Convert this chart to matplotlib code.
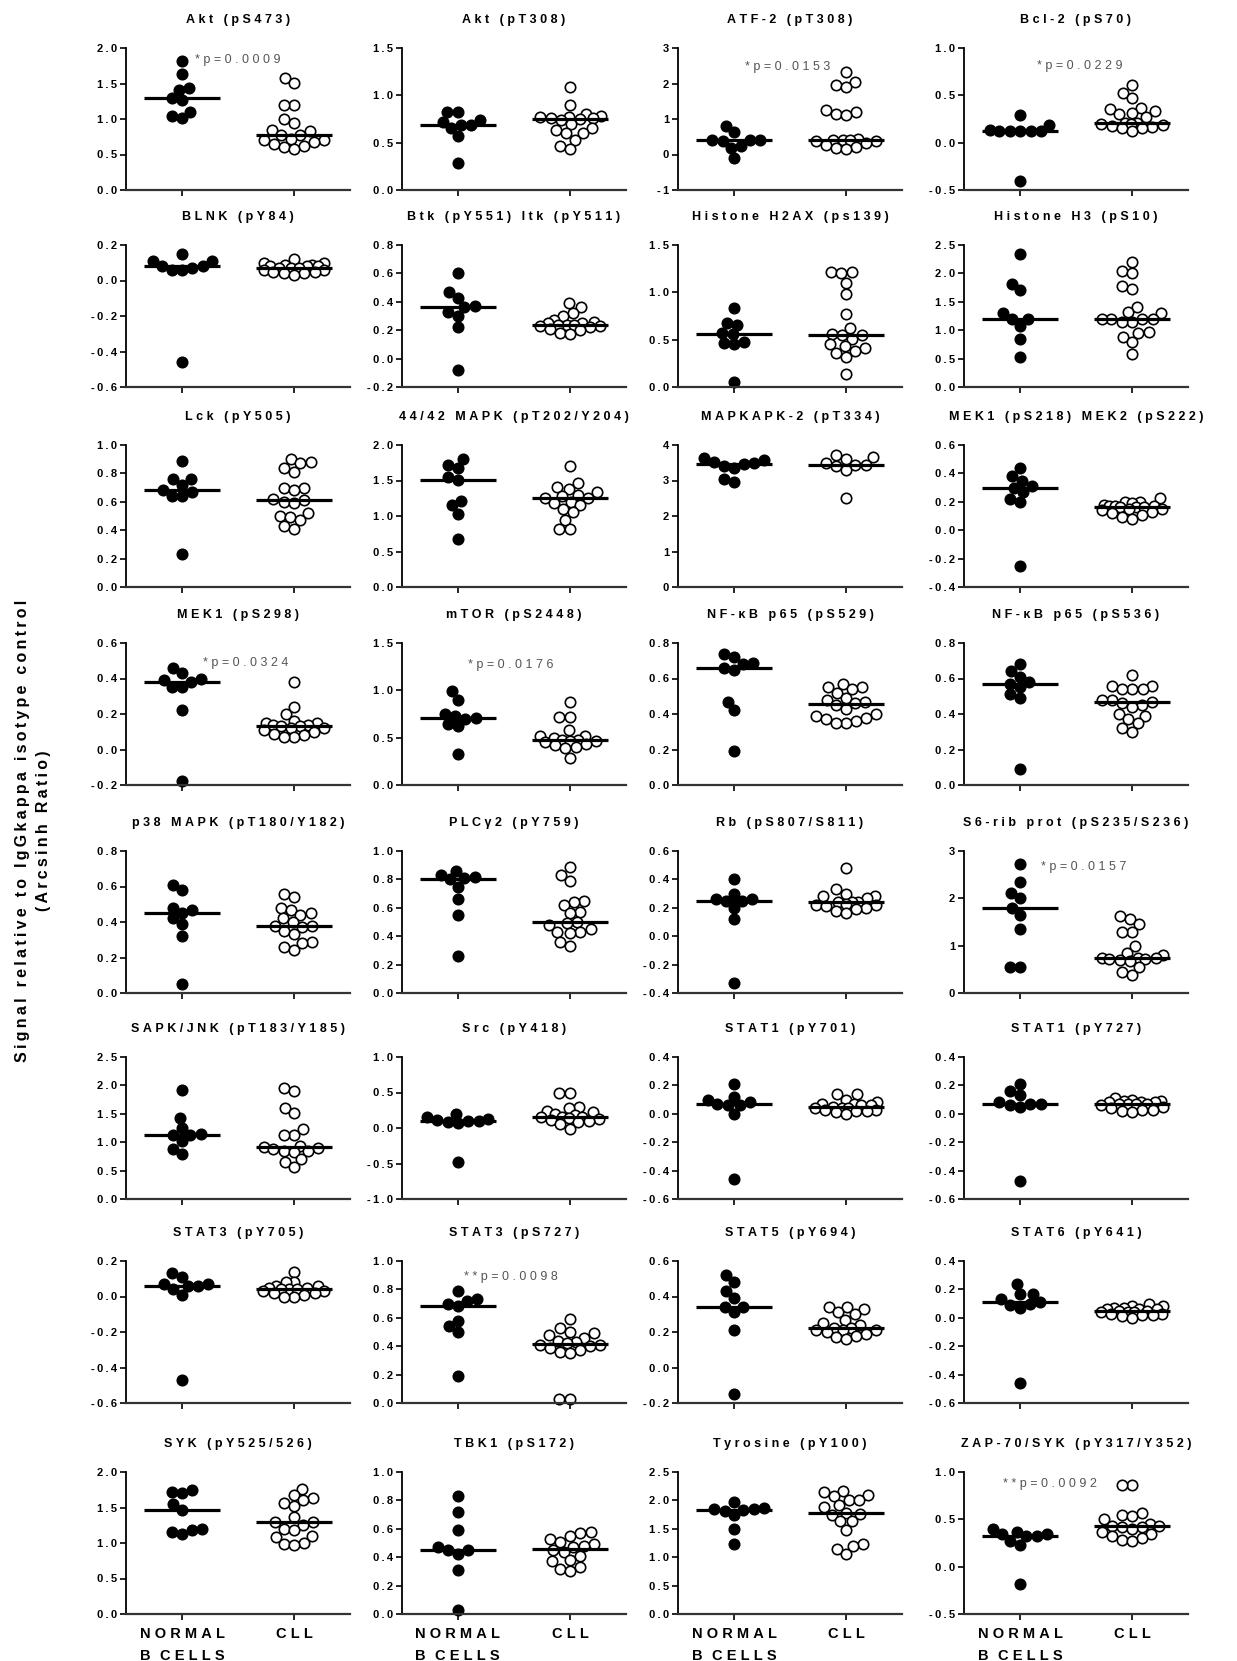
import numpy as np
import matplotlib
matplotlib.use("Agg")
import matplotlib.pyplot as plt

plt.rcParams['font.family'] = ['Liberation Sans', 'DejaVu Sans']

titles = [
    'Akt (pS473)', 'Akt (pT308)', 'ATF-2 (pT308)', 'Bcl-2 (pS70)',
    'BLNK (pY84)', 'Btk (pY551) Itk (pY511)', 'Histone H2AX (ps139)', 'Histone H3 (pS10)',
    'Lck (pY505)', '44/42 MAPK (pT202/Y204)', 'MAPKAPK-2 (pT334)', 'MEK1 (pS218) MEK2 (pS222)',
    'MEK1 (pS298)', 'mTOR (pS2448)', 'NF-κB p65 (pS529)', 'NF-κB p65 (pS536)',
    'p38 MAPK (pT180/Y182)', 'PLCγ2 (pY759)', 'Rb (pS807/S811)', 'S6-rib prot (pS235/S236)',
    'SAPK/JNK (pT183/Y185)', 'Src (pY418)', 'STAT1 (pY701)', 'STAT1 (pY727)',
    'STAT3 (pY705)', 'STAT3 (pS727)', 'STAT5 (pY694)', 'STAT6 (pY641)',
    'SYK (pY525/526)', 'TBK1 (pS172)', 'Tyrosine (pY100)', 'ZAP-70/SYK (pY317/Y352)',
]

# arcsinh ratio per donor, normal B cells
normal_b = [
    [1.82, 1.64, 1.43, 1.41, 1.29, 1.27, 1.10, 1.04, 1.01],
    [0.82, 0.82, 0.74, 0.72, 0.69, 0.69, 0.65, 0.57, 0.28],
    [0.80, 0.62, 0.42, 0.40, 0.40, 0.38, 0.25, 0.18, -0.10],
    [0.29, 0.19, 0.13, 0.12, 0.12, 0.12, 0.12, 0.12, -0.41],
    [0.15, 0.11, 0.11, 0.08, 0.08, 0.07, 0.06, 0.06, -0.46],
    [0.60, 0.47, 0.43, 0.37, 0.36, 0.33, 0.30, 0.22, -0.08],
    [0.83, 0.68, 0.66, 0.57, 0.56, 0.48, 0.46, 0.45, 0.05],
    [2.35, 1.81, 1.70, 1.30, 1.20, 1.20, 1.08, 0.85, 0.53],
    [0.89, 0.76, 0.76, 0.72, 0.68, 0.67, 0.64, 0.64, 0.23],
    [1.80, 1.72, 1.67, 1.55, 1.51, 1.21, 1.15, 1.03, 0.68],
    [3.62, 3.58, 3.52, 3.50, 3.47, 3.42, 3.35, 3.05, 2.95],
    [0.44, 0.38, 0.35, 0.31, 0.30, 0.27, 0.22, 0.20, -0.25],
    [0.46, 0.43, 0.40, 0.39, 0.38, 0.35, 0.35, 0.22, -0.18],
    [0.99, 0.90, 0.75, 0.73, 0.71, 0.70, 0.64, 0.62, 0.33],
    [0.74, 0.72, 0.69, 0.68, 0.66, 0.65, 0.47, 0.42, 0.19],
    [0.68, 0.64, 0.61, 0.58, 0.57, 0.55, 0.51, 0.49, 0.09],
    [0.61, 0.58, 0.48, 0.47, 0.45, 0.42, 0.39, 0.32, 0.05],
    [0.86, 0.83, 0.82, 0.81, 0.80, 0.75, 0.66, 0.55, 0.26],
    [0.40, 0.30, 0.26, 0.26, 0.25, 0.25, 0.20, 0.12, -0.33],
    [2.73, 2.35, 2.12, 2.00, 1.80, 1.65, 1.35, 0.55, 0.55],
    [1.92, 1.43, 1.25, 1.15, 1.13, 1.12, 1.02, 0.88, 0.80],
    [0.20, 0.15, 0.12, 0.11, 0.10, 0.10, 0.09, 0.07, -0.48],
    [0.21, 0.12, 0.10, 0.08, 0.07, 0.06, 0.06, 0.00, -0.46],
    [0.21, 0.16, 0.13, 0.08, 0.07, 0.07, 0.06, 0.05, -0.47],
    [0.13, 0.11, 0.07, 0.07, 0.06, 0.06, 0.04, 0.01, -0.47],
    [0.79, 0.73, 0.72, 0.70, 0.68, 0.58, 0.54, 0.50, 0.19],
    [0.52, 0.48, 0.43, 0.39, 0.34, 0.34, 0.31, 0.21, -0.15],
    [0.24, 0.17, 0.17, 0.13, 0.11, 0.10, 0.09, 0.07, -0.46],
    [1.75, 1.72, 1.70, 1.55, 1.47, 1.20, 1.18, 1.16, 1.13],
    [0.83, 0.72, 0.59, 0.47, 0.45, 0.45, 0.42, 0.31, 0.03],
    [1.98, 1.87, 1.84, 1.84, 1.83, 1.82, 1.74, 1.50, 1.23],
    [0.40, 0.37, 0.35, 0.34, 0.32, 0.32, 0.27, 0.23, -0.18],
]

# arcsinh ratio per patient, CLL cells
cll = [
    [1.58, 1.51, 1.20, 1.20, 1.00, 0.95, 0.85, 0.83, 0.77, 0.77, 0.72, 0.70, 0.70, 0.68, 0.65, 0.62, 0.60, 0.58],
    [1.09, 0.90, 0.80, 0.78, 0.77, 0.77, 0.76, 0.76, 0.75, 0.74, 0.70, 0.65, 0.63, 0.60, 0.60, 0.53, 0.47, 0.43],
    [2.33, 2.05, 1.95, 1.90, 1.25, 1.20, 1.15, 1.10, 0.45, 0.41, 0.40, 0.40, 0.39, 0.37, 0.33, 0.28, 0.22, 0.18, 0.15],
    [0.61, 0.52, 0.47, 0.37, 0.36, 0.33, 0.31, 0.30, 0.27, 0.21, 0.21, 0.20, 0.20, 0.19, 0.18, 0.17, 0.16, 0.15, 0.12],
    [0.12, 0.10, 0.10, 0.09, 0.09, 0.08, 0.08, 0.08, 0.07, 0.07, 0.07, 0.06, 0.06, 0.05, 0.05, 0.04, 0.04, 0.03],
    [0.39, 0.36, 0.32, 0.30, 0.27, 0.26, 0.25, 0.25, 0.24, 0.24, 0.24, 0.23, 0.23, 0.22, 0.21, 0.20, 0.18, 0.17],
    [1.21, 1.21, 1.20, 1.10, 0.98, 0.77, 0.62, 0.56, 0.55, 0.55, 0.51, 0.45, 0.43, 0.41, 0.38, 0.36, 0.32, 0.14],
    [2.20, 2.05, 2.00, 1.77, 1.72, 1.40, 1.32, 1.30, 1.20, 1.20, 1.20, 1.20, 1.15, 1.15, 0.97, 0.95, 0.88, 0.80, 0.58],
    [0.90, 0.88, 0.87, 0.84, 0.81, 0.70, 0.70, 0.68, 0.62, 0.61, 0.60, 0.59, 0.52, 0.50, 0.49, 0.47, 0.43, 0.41],
    [1.70, 1.46, 1.41, 1.38, 1.34, 1.30, 1.28, 1.26, 1.25, 1.20, 1.18, 1.15, 1.10, 1.05, 0.95, 0.82, 0.82],
    [3.72, 3.65, 3.60, 3.50, 3.45, 3.45, 3.42, 3.30, 2.50],
    [0.23, 0.20, 0.20, 0.19, 0.18, 0.17, 0.17, 0.17, 0.16, 0.16, 0.16, 0.15, 0.15, 0.14, 0.13, 0.12, 0.11, 0.09, 0.08],
    [0.38, 0.24, 0.20, 0.16, 0.15, 0.15, 0.14, 0.14, 0.13, 0.13, 0.12, 0.12, 0.11, 0.10, 0.09, 0.08, 0.07, 0.07],
    [0.88, 0.72, 0.72, 0.58, 0.52, 0.52, 0.50, 0.48, 0.48, 0.47, 0.46, 0.45, 0.43, 0.42, 0.40, 0.39, 0.29],
    [0.57, 0.55, 0.55, 0.54, 0.52, 0.49, 0.48, 0.47, 0.46, 0.45, 0.43, 0.40, 0.39, 0.38, 0.37, 0.36, 0.35, 0.35],
    [0.62, 0.56, 0.56, 0.54, 0.54, 0.54, 0.48, 0.48, 0.47, 0.46, 0.45, 0.44, 0.40, 0.39, 0.37, 0.35, 0.32, 0.30],
    [0.56, 0.54, 0.48, 0.47, 0.45, 0.44, 0.42, 0.40, 0.38, 0.38, 0.37, 0.35, 0.33, 0.29, 0.28, 0.26, 0.24],
    [0.89, 0.83, 0.79, 0.65, 0.64, 0.62, 0.57, 0.56, 0.50, 0.49, 0.48, 0.45, 0.43, 0.43, 0.42, 0.36, 0.33],
    [0.48, 0.33, 0.30, 0.28, 0.28, 0.27, 0.24, 0.24, 0.24, 0.23, 0.22, 0.22, 0.21, 0.20, 0.19, 0.18, 0.16],
    [1.62, 1.57, 1.45, 1.28, 1.28, 1.00, 0.85, 0.80, 0.73, 0.73, 0.73, 0.72, 0.72, 0.70, 0.68, 0.55, 0.45, 0.38],
    [1.95, 1.90, 1.60, 1.52, 1.23, 1.13, 1.13, 0.94, 0.92, 0.90, 0.88, 0.85, 0.85, 0.83, 0.70, 0.65, 0.57],
    [0.50, 0.50, 0.30, 0.28, 0.24, 0.22, 0.20, 0.18, 0.16, 0.15, 0.15, 0.14, 0.12, 0.11, 0.10, 0.08, 0.05, -0.01],
    [0.14, 0.14, 0.10, 0.08, 0.07, 0.07, 0.06, 0.06, 0.05, 0.04, 0.04, 0.04, 0.03, 0.03, 0.02, 0.02, 0.01, 0.00],
    [0.11, 0.10, 0.09, 0.09, 0.08, 0.08, 0.08, 0.07, 0.07, 0.07, 0.07, 0.06, 0.05, 0.04, 0.03, 0.03, 0.02, 0.01],
    [0.14, 0.08, 0.08, 0.06, 0.06, 0.05, 0.05, 0.04, 0.04, 0.04, 0.03, 0.03, 0.02, 0.02, 0.01, 0.00, 0.00],
    [0.59, 0.53, 0.50, 0.49, 0.48, 0.46, 0.44, 0.43, 0.42, 0.41, 0.41, 0.40, 0.39, 0.37, 0.36, 0.35, 0.03, 0.03],
    [0.34, 0.34, 0.33, 0.31, 0.30, 0.27, 0.25, 0.24, 0.22, 0.22, 0.21, 0.21, 0.21, 0.20, 0.19, 0.18, 0.17, 0.16],
    [0.10, 0.08, 0.08, 0.07, 0.07, 0.06, 0.06, 0.06, 0.05, 0.05, 0.04, 0.04, 0.04, 0.03, 0.03, 0.02, 0.02, 0.01, 0.00],
    [1.76, 1.67, 1.63, 1.60, 1.57, 1.52, 1.37, 1.30, 1.29, 1.25, 1.20, 1.18, 1.10, 1.08, 1.00, 0.98, 0.97],
    [0.58, 0.57, 0.55, 0.53, 0.51, 0.49, 0.48, 0.47, 0.45, 0.44, 0.41, 0.38, 0.37, 0.33, 0.32, 0.30],
    [2.16, 2.15, 2.10, 2.08, 2.00, 2.00, 1.92, 1.88, 1.78, 1.76, 1.75, 1.63, 1.63, 1.48, 1.23, 1.20, 1.14, 1.06],
    [0.86, 0.86, 0.57, 0.55, 0.53, 0.50, 0.45, 0.43, 0.43, 0.42, 0.42, 0.40, 0.37, 0.35, 0.32, 0.30, 0.28, 0.27],
]

y_min = [0, 0, -1, -0.5, -0.6, -0.2, 0, 0, 0, 0, 0, -0.4, -0.2, 0, 0, 0,
         0, 0, -0.4, 0, 0, -1, -0.6, -0.6, -0.6, 0, -0.2, -0.6, 0, 0, 0, -0.5]
y_max = [2, 1.5, 3, 1, 0.2, 0.8, 1.5, 2.5, 1, 2, 4, 0.6, 0.6, 1.5, 0.8, 0.8,
         0.8, 1, 0.6, 3, 2.5, 1, 0.4, 0.4, 0.2, 1, 0.6, 0.4, 2, 1, 2.5, 1]
y_step = [0.5, 0.5, 1, 0.5, 0.2, 0.2, 0.5, 0.5, 0.2, 0.5, 1, 0.2, 0.2, 0.5, 0.2, 0.2,
          0.2, 0.2, 0.2, 1, 0.5, 0.5, 0.2, 0.2, 0.2, 0.2, 0.2, 0.2, 0.5, 0.2, 0.5, 0.5]

# significance labels: panel index -> text
p_labels = {0: '*p=0.0009', 2: '*p=0.0153', 3: '*p=0.0229', 12: '*p=0.0324',
            13: '*p=0.0176', 19: '*p=0.0157', 25: '**p=0.0098', 31: '**p=0.0092'}
p_label_pos = {0: (1.12, 1.83), 2: (1.10, 2.46), 3: (1.15, 0.81), 12: (1.19, 0.49),
               13: (1.09, 1.27), 19: (1.19, 2.66), 25: (1.05, 0.89), 31: (0.85, 0.87)}

group_labels = ['NORMAL\nB CELLS', 'CLL']

THIN = '\u2009'
HAIR = '\u200a'


def tracked(s, gap, word_sep=None):
    # fake letter spacing by putting narrow spaces between glyphs
    out = []
    for line in s.split('\n'):
        if word_sep is None:
            out.append(gap.join(line))
        else:
            out.append(word_sep.join(gap.join(w) for w in line.split(' ')))
    return '\n'.join(out)


def swarm(vals, px_per_unit, diam, max_half):
    # simple beeswarm: each point takes the free spot closest to the centre
    vals = np.asarray(vals, dtype=float)
    xs = np.zeros(len(vals))
    placed = []
    for i in np.argsort(vals, kind='stable'):
        y = vals[i] * px_per_unit
        d = diam
        while True:
            blocked = []
            for px, py in placed:
                dy = abs(py - y)
                if dy < d:
                    w = np.sqrt(d * d - dy * dy)
                    blocked.append((px - w, px + w))
            cands = [0.0] + [b for iv in blocked for b in iv]
            cands.sort(key=abs)
            x = None
            for c in cands:
                if all(not (lo + 1e-6 < c < hi - 1e-6) for lo, hi in blocked):
                    x = c
                    break
            if abs(x) <= max_half:
                break
            d *= 0.9
        xs[i] = x
        placed.append((x, y))
    return xs


W, H = 1237, 1661
fig = plt.figure(figsize=(W / 100, H / 100), dpi=100)

col_left = [126, 402, 678, 964]
row_top = [48, 245, 445, 643, 851, 1057, 1261, 1472]
ax_w, ax_h = 224, 142
x_px = ax_w / 2.0  # pixels per x unit (xlim 0.5..2.5)

for k in range(32):
    r, c = divmod(k, 4)
    ax = fig.add_axes([col_left[c] / W, 1 - (row_top[r] + ax_h) / H, ax_w / W, ax_h / H])
    lo, hi, step = y_min[k], y_max[k], y_step[k]
    y_px = ax_h / (hi - lo)

    for g, (vals, filled) in enumerate([(normal_b[k], True), (cll[k], False)]):
        xc = g + 1
        offs = swarm(vals, y_px, 10.5, 31) / x_px
        ax.scatter(xc + offs, vals, s=56, marker='o',
                   facecolor='black' if filled else 'white',
                   edgecolor='black', linewidth=1.2, zorder=2, clip_on=False)
        med = np.median(vals)
        ax.hlines(med, xc - 0.34, xc + 0.34, color='black', lw=2.3, zorder=3)

    ax.set_xlim(0.5, 2.5)
    ax.set_ylim(lo, hi)
    n = int(round((hi - lo) / step)) + 1
    ticks = np.linspace(lo, hi, n)
    ax.set_yticks(ticks)
    fmt = '{:.0f}' if step >= 1 else '{:.1f}'
    ax.set_yticklabels([tracked(fmt.format(t + 0.0), THIN) for t in ticks],
                       fontsize=8, fontweight='bold')
    ax.set_xticks([1, 2])
    if r == 7:
        ax.set_xticklabels([tracked(s, THIN + HAIR, word_sep=THIN + HAIR + ' ' + HAIR)
                            for s in group_labels],
                           fontsize=10.5, fontweight='bold', multialignment='left',
                           linespacing=1.75)
    else:
        ax.set_xticklabels([])

    for side in ('top', 'right'):
        ax.spines[side].set_visible(False)
    ax.spines['left'].set_linewidth(1.3)
    ax.spines['bottom'].set_linewidth(1.6)
    ax.spines['bottom'].set_color('#333333')
    ax.tick_params(axis='y', direction='out', length=4, width=1.2, pad=2.5)
    ax.tick_params(axis='x', direction='out', length=4, width=1.2, pad=5)

    ax.text(0.5, 1 + 28 / ax_h, tracked(titles[k], THIN + HAIR), transform=ax.transAxes,
            ha='center', va='center', fontsize=9, fontweight='bold')

    if k in p_labels:
        px, py = p_label_pos[k]
        ax.text(px, py, tracked(p_labels[k], THIN + HAIR), ha='left', va='center',
                fontsize=9, color='#555555')

fig.text(33 / W, 0.5,
         tracked('Signal relative to IgGkappa isotype control\n(Arcsinh Ratio)', THIN),
         rotation=90, ha='center', va='center', multialignment='center',
         fontsize=11.5, fontweight='bold', linespacing=1.45)

fig.savefig('out.png', dpi=100)
